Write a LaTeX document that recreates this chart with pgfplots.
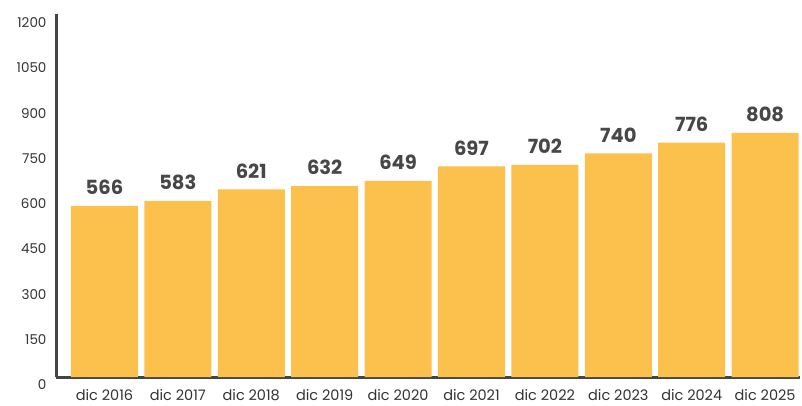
\documentclass[border=0pt]{standalone}
\usepackage{fontspec}
\setmainfont{Poppins}
\usepackage{pgfplots}
\pgfplotsset{compat=1.18}

\definecolor{barfill}{HTML}{FCC04C}
\definecolor{axisgray}{HTML}{444444}
\definecolor{txtgray}{HTML}{333333}

\begin{document}
\begin{tikzpicture}
\begin{axis}[
    name=ax,
    scale only axis,
    width=744pt, height=362.6pt,
    xmin=-0.66, xmax=9.475,
    ymin=0, ymax=1200,
    ytick={0,150,...,1200},
    xtick=data,
    xticklabels={dic 2016,dic 2017,dic 2018,dic 2019,dic 2020,dic 2021,dic 2022,dic 2023,dic 2024,dic 2025},
    axis x line=bottom, axis y line=left,
    axis line style={-, line width=3pt, color=axisgray},
    major tick length=0pt,
    /pgf/number format/assume math mode=true,
    /pgf/number format/1000 sep={},
    yticklabel style={font=\fontsize{13.5}{14}\selectfont, text=txtgray, yshift=-8pt, xshift=-6pt},
    xticklabel style={font=\fontsize{14.5}{15}\selectfont, text=txtgray, yshift=-9pt},
    ybar, bar width=67pt,
    nodes near coords,
    nodes near coords style={font=\fontsize{19.5}{20}\selectfont\bfseries, text=txtgray!90, anchor=south, inner sep=0pt, yshift=11pt},
    clip=false,
]
\addplot[fill=barfill, draw=none] coordinates {
    (0,566) (1,583) (2,621) (3,632) (4,649)
    (5,697) (6,702) (7,740) (8,776) (9,808)
};
\end{axis}
\path ([shift={(-56pt,-28pt)}]ax.south west) rectangle ([shift={(2pt,14.4pt)}]ax.north east);
\end{tikzpicture}
\end{document}
